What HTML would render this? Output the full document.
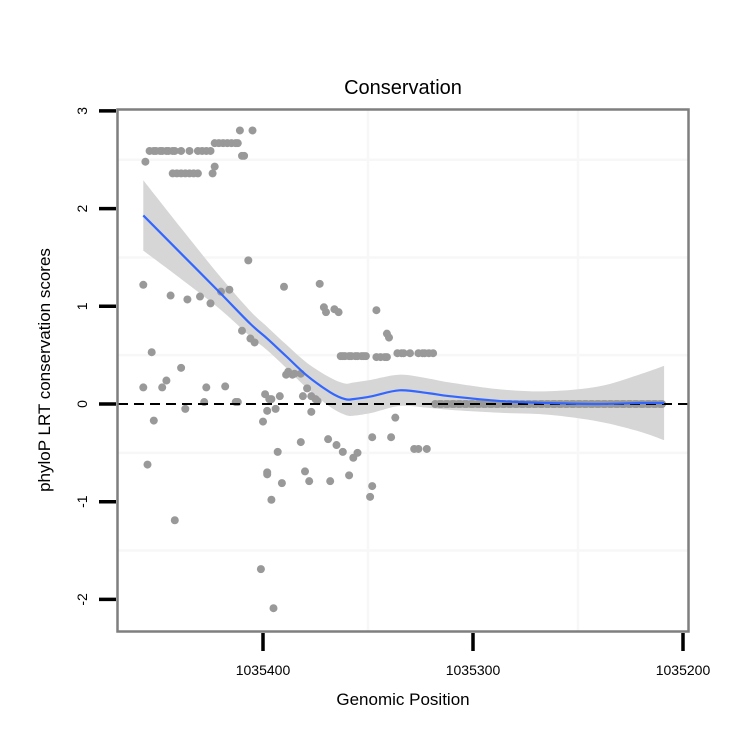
<!DOCTYPE html>
<html><head><meta charset="utf-8"><style>
body{margin:0;background:#fff;}
svg text{font-family:"Liberation Sans",sans-serif;}
</style></head><body>
<svg id="chart" width="750" height="750" viewBox="0 0 750 750" xmlns="http://www.w3.org/2000/svg">
<rect x="0" y="0" width="750" height="750" fill="#fff"/>
<g id="grid"></g>
<g id="band"></g>
<g id="points"></g>
<g id="zero"></g>
<g id="smooth"></g>
<rect x="117.5" y="109.5" width="571" height="522" fill="none" stroke="#7f7f7f" stroke-width="2.5"/>
<g id="axes"></g>
<text x="403" y="94" font-size="20" text-anchor="middle">Conservation</text>
<text x="403" y="705" font-size="17" text-anchor="middle">Genomic Position</text>
<text transform="translate(50,370) rotate(-90)" font-size="17" text-anchor="middle">phyloP LRT conservation scores</text>
</svg>
<script>
const ptPos = [1035456,1035454,1035452,1035451,1035449,1035448,1035446,1035445,1035443,1035442,1035439,1035435,1035431,1035429,1035427,1035425,
1035423,1035421,1035419,1035417,1035415,1035413,1035412,1035411,1035405,1035409,1035410,
1035443,1035441,1035439,1035437,1035435,1035433,1035431,1035424,1035423,1035407,
1035457,1035444,1035436,1035430,1035425,1035420,1035416,1035390,1035373,
1035371,1035370,1035366,1035364,1035346,1035341,1035340,1035410,1035406,1035404,
1035453,1035439,1035446,1035448,1035457,1035427,1035418,1035388,1035386,1035385,1035382,1035389,
1035437,1035428,1035413,1035412,1035399,1035392,1035379,1035396,1035398,1035397,1035394,1035377,1035381,1035374,1035375,1035377,
1035400,1035452,1035455,1035442,1035398,1035398,1035396,1035391,1035393,1035382,1035380,1035378,1035368,1035369,1035365,1035362,1035357,1035355,1035359,1035349,1035348,1035337,1035348,1035339,1035328,1035322,1035326,
1035401,1035395,
1035363,1035362,1035361,1035359,1035358,1035356,1035355,1035353,1035352,1035351,1035346,1035344,1035342,1035341,1035336,1035334,1035333,1035330,1035326,1035324,1035323,1035321,1035319,
1035318,1035316,1035315,1035313,1035312,1035310,1035309,1035307,1035306,1035304,1035303,1035301,1035300,1035298,1035297,1035295,1035294,1035292,1035291,1035289,1035288,1035286,1035285,1035283,1035282,1035280,1035279,1035277,1035276,1035274,1035273,1035271,1035270,1035268,1035267,1035265,1035264,1035262,1035261,1035259,1035258,1035256,1035255,1035253,1035252,1035250,1035249,1035247,1035246,1035244,1035243,1035241,1035240,1035238,1035237,1035235,1035234,1035232,1035231,1035229,1035228,1035226,1035225,1035223,1035222,1035220,1035219,1035217,1035216,1035214,1035213,1035211,1035210];
const ptVal = [2.48,2.59,2.59,2.59,2.59,2.59,2.59,2.59,2.59,2.59,2.59,2.59,2.59,2.59,2.59,2.59,
2.67,2.67,2.67,2.67,2.67,2.67,2.67,2.8,2.8,2.54,2.54,
2.36,2.36,2.36,2.36,2.36,2.36,2.36,2.36,2.43,1.47,
1.22,1.11,1.07,1.1,1.03,1.15,1.17,1.2,1.23,
0.99,0.94,0.97,0.94,0.96,0.72,0.68,0.75,0.67,0.63,
0.53,0.37,0.24,0.17,0.17,0.17,0.18,0.33,0.3,0.31,0.31,0.3,
-0.05,0.02,0.02,0.02,0.1,0.08,0.16,0.05,-0.07,0.05,-0.05,0.08,0.08,0.03,0.05,-0.08,
-0.18,-0.17,-0.62,-1.19,-0.72,-0.7,-0.98,-0.81,-0.49,-0.39,-0.69,-0.79,-0.79,-0.36,-0.42,-0.49,-0.55,-0.5,-0.73,-0.95,-0.84,-0.14,-0.34,-0.34,-0.46,-0.46,-0.46,
-1.69,-2.09,
0.49,0.49,0.49,0.49,0.49,0.49,0.49,0.49,0.49,0.49,0.48,0.48,0.48,0.48,0.52,0.52,0.52,0.52,0.52,0.52,0.52,0.52,0.52,
0,0,0,0,0,0,0,0,0,0,0,0,0,0,0,0,0,0,0,0,0,0,0,0,0,0,0,0,0,0,0,0,0,0,0,0,0,0,0,0,0,0,0,0,0,0,0,0,0,0,0,0,0,0,0,0,0,0,0,0,0,0,0,0,0,0,0,0,0,0,0,0,0,0];
const fitPos = [1035457,1035439,1035421,1035406,1035398,1035389,1035379,1035368,1035361,1035357,1035348,1035335,1035321,1035311,1035287,1035264,1035240,1035221,1035209];
const fitVal = [1.93,1.54,1.15,0.82,0.67,0.49,0.29,0.12,0.05,0.05,0.08,0.14,0.11,0.08,0.03,0.01,0,0.01,0.01];
const fitSe = [0.36,0.26,0.17,0.13,0.12,0.12,0.13,0.15,0.16,0.17,0.17,0.16,0.15,0.14,0.12,0.12,0.18,0.29,0.38];
const yTicks = [-2,-1,0,1,2,3];
const xTicks = [1035400,1035300,1035200];
const xTickLabels = ["1035400","1035300","1035200"];

const NS="http://www.w3.org/2000/svg";
function xs(p){return 263 + (1035400 - p)*2.1;}
function ys(v){return 404 - v*97.7;}
function mk(tag,attrs,parent){const e=document.createElementNS(NS,tag);for(const k in attrs)e.setAttribute(k,attrs[k]);document.getElementById(parent).appendChild(e);return e;}
function smoothPath(pts,move){
  let d=(move?'M':'L')+pts[0][0]+','+pts[0][1];
  for(let i=0;i<pts.length-1;i++){
    const p0=pts[i-1]||pts[i],p1=pts[i],p2=pts[i+1],p3=pts[i+2]||p2;
    d+=' C'+(p1[0]+(p2[0]-p0[0])/6)+','+(p1[1]+(p2[1]-p0[1])/6)+' '+(p2[0]-(p3[0]-p1[0])/6)+','+(p2[1]-(p3[1]-p1[1])/6)+' '+p2[0]+','+p2[1];
  }
  return d;
}

// grid
[-1.5,-0.5,0.5,1.5,2.5].forEach(v=>{const g=mk('line',{x1:118,x2:688,y1:ys(v),y2:ys(v),stroke:'#f7f7f7','stroke-width':2.5},'grid');

});
[1035350,1035250].forEach(p=>{const g=mk('line',{x1:xs(p),x2:xs(p),y1:110,y2:631,stroke:'#f7f7f7','stroke-width':2.5},'grid');

});

// band
const upPts=fitPos.map((p,i)=>[xs(p),ys(fitVal[i]+fitSe[i])]);
const dnPts=fitPos.map((p,i)=>[xs(p),ys(fitVal[i]-fitSe[i])]).reverse();
const band=mk('path',{d:smoothPath(upPts,true)+' '+smoothPath(dnPts,false)+' Z',fill:'#d6d6d6'},'band');



// points
ptPos.forEach((p,i)=>{const c=mk('circle',{cx:xs(p),cy:ys(ptVal[i]),r:4,fill:'#999'},'points');

});

// zero line
const z=mk('line',{x1:118,x2:688,y1:ys(0),y2:ys(0),stroke:'#000','stroke-width':2,'stroke-dasharray':'10,6'},'zero');



// smooth
const sl=mk('path',{d:smoothPath(fitPos.map((p,i)=>[xs(p),ys(fitVal[i])]),true),fill:'none',stroke:'#3366FF','stroke-width':2.2},'smooth');



// axes
yTicks.forEach(v=>{const t=mk('line',{x1:99,x2:116,y1:ys(v),y2:ys(v),stroke:'#000','stroke-width':3.5},'axes');


const l=mk('text',{transform:'translate(87,'+ys(v)+') rotate(-90)','font-size':14,'text-anchor':'middle'},'axes');
l.textContent=String(v);

});
xTicks.forEach((p,i)=>{const t=mk('line',{x1:xs(p),x2:xs(p),y1:633,y2:651,stroke:'#000','stroke-width':3.5},'axes');


const l=mk('text',{x:xs(p),y:675,'font-size':14,'text-anchor':'middle'},'axes');
l.textContent=xTickLabels[i];

});
</script>
</body></html>
